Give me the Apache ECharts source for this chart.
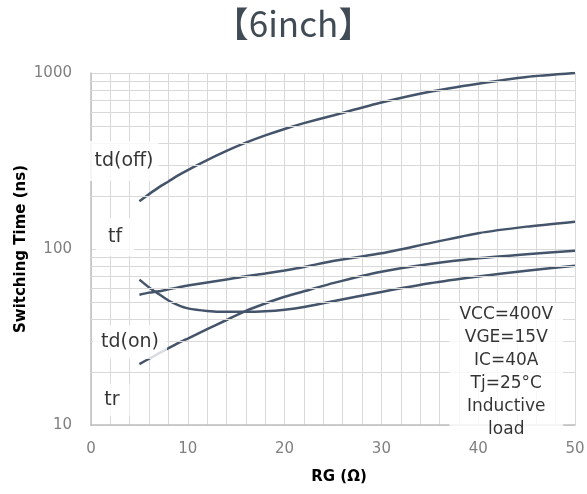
<!DOCTYPE html>
<html>
<head>
<meta charset="utf-8">
<script src="https://cdn.jsdelivr.net/npm/echarts@6/dist/echarts.min.js"></script>
<style>html,body{margin:0;padding:0;background:#fff}#c{width:587px;height:494px}</style>
</head>
<body>
<div id="c"></div>
<script>
// ---- data ----
const rg = [5, 6, 7, 8, 9, 10, 12, 14, 16, 18, 20, 22, 25, 30, 35, 40, 45, 50];
const tdOff = [187, 205, 224, 242, 262, 281, 320, 361, 402, 442, 481, 519, 574, 680, 783, 870, 950, 1000];
const tf    = [55, 56.5, 57.5, 59, 60.5, 62, 64.5, 67, 70, 72.5, 75.5, 79, 85.5, 94.5, 108, 123, 134, 143];
const tdOn  = [67, 60.5, 55.5, 51, 48, 46, 44.5, 44, 44, 44.3, 45.2, 46.8, 50.5, 57, 63.8, 69.7, 75.3, 80.4];
const tr    = [22.2, 23.8, 25.5, 27.3, 29.2, 31, 35, 39.5, 44.5, 49, 53.5, 57.5, 64, 74.3, 82.2, 88.5, 93.3, 97.8];
const yMinorGrid = [20, 30, 40, 50, 60, 70, 80, 90, 200, 300, 400, 500, 600, 700, 800, 900];
const curveNames = ['td(off)', 'tf', 'td(on)', 'tr'];
const curveLabelX = [3.41, 2.48, 4.03, 2.17];
const curveLabelY = [316, 117, 29.6, 13.9];
const conditionText = ['VCC=400V', 'VGE=15V', 'IC=40A', 'Tj=25°C', 'Inductive', 'load'];
const conditionPos = [42.9, 20];

const lineColor = '#44546a';
const pair = vals => rg.map((x, i) => [x, vals[i]]);
const curves = [tdOff, tf, tdOn, tr];
const labelPads = [[9, 5], [8, 12], [6, 8], [5, 10]];

const series = [];
series.push({
  type: 'line', data: [], z: 1, silent: true,
  markLine: {
    silent: true, symbol: ['none', 'none'], label: {show: false},
    lineStyle: {color: '#d9d9d9', width: 1, type: 'solid'},
    emphasis: {disabled: true},
    data: yMinorGrid.map(v => ({yAxis: v}))
  }
});
curves.forEach((vals, i) => {
  series.push({
    type: 'line', name: curveNames[i], data: pair(vals), z: 3,
    smooth: 0.2, showSymbol: false, symbol: 'none',
    lineStyle: {color: lineColor, width: 2.5}, silent: true
  });
});
series.push({
  type: 'scatter', z: 10, symbolSize: 1, silent: true,
  itemStyle: {color: 'rgba(0,0,0,0)'},
  data: curveNames.map((n, i) => ({
    name: n, value: [curveLabelX[i], curveLabelY[i]],
    label: {padding: labelPads[i]}
  })),
  label: {
    show: true, position: 'inside', formatter: '{b}',
    fontFamily: 'DejaVu Sans', fontSize: 19, color: '#000',
    backgroundColor: '#fff', lineHeight: 22
  }
});
series.push({
  type: 'scatter', z: 10, symbolSize: 1, silent: true,
  itemStyle: {color: 'rgba(0,0,0,0)'},
  data: [{name: 'cond', value: conditionPos}],
  label: {
    show: true, position: 'inside', formatter: conditionText.join('\n'),
    fontFamily: 'DejaVu Sans', fontSize: 17, color: '#000', align: 'center',
    lineHeight: 23, backgroundColor: '#fff', padding: [0, 10]
  }
});

const chart = echarts.init(document.getElementById('c'), null, {renderer: 'canvas'});
chart.setOption({
  animation: false,
  backgroundColor: '#fff',
  title: {
    text: '【6inch】', left: 'center', top: 1,
    textStyle: {fontFamily: 'Noto Sans CJK JP', fontSize: 35, fontWeight: 'normal', color: '#414b56'}
  },
  grid: {left: 91, right: 12, top: 73, bottom: 69, containLabel: false, outerBoundsMode: 'none'},
  xAxis: {
    type: 'value', min: 0, max: 50, interval: 10,
    name: 'RG (Ω)', nameLocation: 'middle', nameGap: 45, nameMoveOverlap: false,
    nameTextStyle: {fontFamily: 'DejaVu Sans', fontSize: 15, fontWeight: 'bold', color: '#000', padding: [0, 0, 0, 12]},
    axisLine: {show: true, lineStyle: {color: '#bfbfbf', width: 1.5}},
    axisTick: {show: false},
    axisLabel: {fontFamily: 'DejaVu Sans', fontSize: 15, color: '#808080', margin: 17},
    splitLine: {show: true, lineStyle: {color: '#d9d9d9', width: 1}},
    minorTick: {show: false, splitNumber: 5},
    minorSplitLine: {show: true, lineStyle: {color: '#d9d9d9', width: 1}}
  },
  yAxis: {
    type: 'log', logBase: 10, min: 10, max: 1000,
    name: 'Switching Time (ns)', nameLocation: 'middle', nameGap: 62, nameRotate: 90, nameMoveOverlap: false,
    nameTextStyle: {fontFamily: 'DejaVu Sans', fontSize: 15, fontWeight: 'bold', color: '#000'},
    axisLine: {show: true, lineStyle: {color: '#bfbfbf', width: 1.5}},
    axisTick: {show: false},
    axisLabel: {fontFamily: 'DejaVu Sans', fontSize: 15, color: '#808080', margin: 19,
      formatter: v => String(Math.round(v))},
    splitLine: {show: true, lineStyle: {color: '#d9d9d9', width: 1}}
  },
  series: series
});
</script>
</body>
</html>
